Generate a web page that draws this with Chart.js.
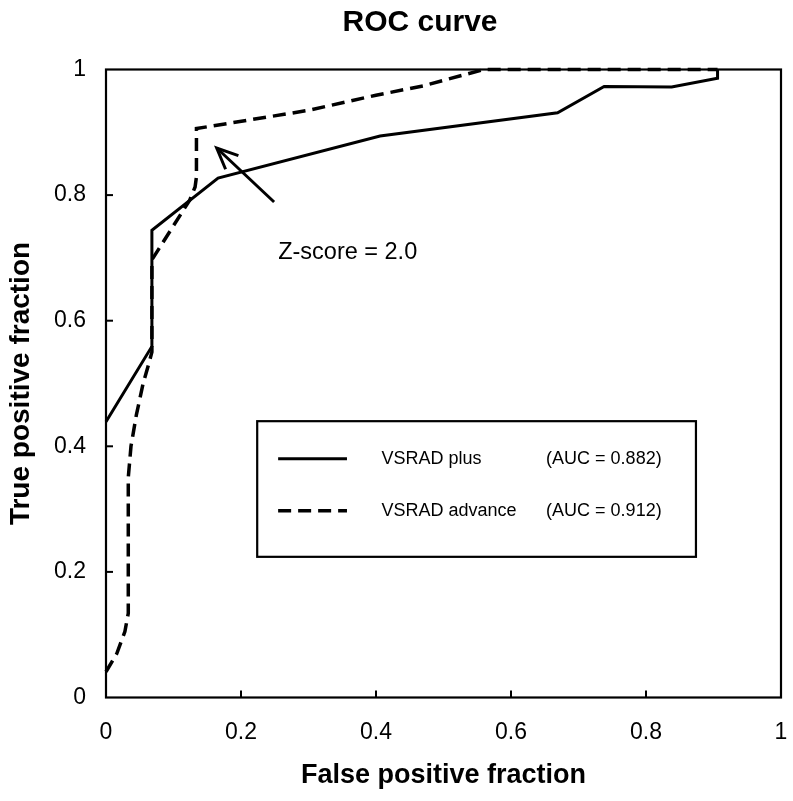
<!DOCTYPE html>
<html>
<head>
<meta charset="utf-8">
<script src="https://cdn.jsdelivr.net/npm/chart.js@4.4.1/dist/chart.umd.min.js"></script>
<style>
  html, body { margin: 0; padding: 0; background: #fff; }
  #c { display: block; }
</style>
</head>
<body>
<canvas id="c" width="793" height="801"></canvas>
<script>
// ---- data ----
const seriesNames = ['VSRAD plus', 'VSRAD advance'];
const aucLabels = ['(AUC = 0.882)', '(AUC = 0.912)'];
const plusFPF = [0, 0.068, 0.068, 0.166, 0.406, 0.669, 0.738, 0.838, 0.906, 0.906];
const plusTPF = [0.439, 0.559, 0.744, 0.827, 0.894, 0.931, 0.973, 0.972, 0.986, 1.0];
const advFPF = [0, 0.016, 0.028, 0.033, 0.033, 0.037, 0.045, 0.055, 0.063, 0.068, 0.068, 0.124, 0.132, 0.134, 0.134, 0.30, 0.40, 0.47, 0.56, 0.906];
const advTPF = [0.041, 0.070, 0.105, 0.134, 0.35, 0.40, 0.45, 0.50, 0.53, 0.55, 0.697, 0.792, 0.813, 0.829, 0.906, 0.935, 0.959, 0.974, 1.0, 1.0];
const tickValues = [0, 0.2, 0.4, 0.6, 0.8, 1];
const xTickLabels = ['0', '0.2', '0.4', '0.6', '0.8', '1'];
const yTickLabels = ['0', '0.2', '0.4', '0.6', '0.8', '1'];
const annotationText = 'Z-score = 2.0';
const arrowTail = [0.249, 0.789];
const arrowTip = [0.164, 0.875];

const FONT = '"Liberation Sans", Arial, Helvetica, sans-serif';

function pts(xs, ys) { return xs.map((v, i) => ({ x: v, y: ys[i] })); }

const titleShift = {
  id: 'titleShift',
  afterLayout(chart) {
    const tb = chart.titleBlock;
    if (tb) { tb.left = 47; tb.right = 793; tb.width = tb.right - tb.left; }
  }
};

const overlay = {
  id: 'overlay',
  afterDatasetsDraw(chart) {
    const { ctx, chartArea: a, scales: { x, y } } = chart;
    ctx.save();
    ctx.strokeStyle = '#000';
    ctx.fillStyle = '#000';
    // inner ticks
    ctx.lineWidth = 2;
    tickValues.forEach(v => {
      if (v === 0 || v === 1) return;
      const px = x.getPixelForValue(v);
      ctx.beginPath(); ctx.moveTo(px, a.bottom); ctx.lineTo(px, a.bottom - 7); ctx.stroke();
      const py = y.getPixelForValue(v);
      ctx.beginPath(); ctx.moveTo(a.left, py); ctx.lineTo(a.left + 7, py); ctx.stroke();
    });
    // frame
    ctx.lineWidth = 2.2;
    ctx.strokeRect(a.left, a.top, a.right - a.left, a.bottom - a.top);

    // arrow annotation
    const tx = x.getPixelForValue(arrowTail[0]), ty = y.getPixelForValue(arrowTail[1]);
    const hx = x.getPixelForValue(arrowTip[0]), hy = y.getPixelForValue(arrowTip[1]);
    ctx.lineWidth = 3;
    ctx.lineCap = 'butt';
    ctx.beginPath(); ctx.moveTo(tx, ty); ctx.lineTo(hx, hy); ctx.stroke();
    const ang = Math.atan2(ty - hy, tx - hx);
    const L = 23, spread = 24 * Math.PI / 180;
    ctx.beginPath();
    ctx.moveTo(hx + L * Math.cos(ang - spread), hy + L * Math.sin(ang - spread));
    ctx.lineTo(hx, hy);
    ctx.lineTo(hx + L * Math.cos(ang + spread), hy + L * Math.sin(ang + spread));
    ctx.stroke();

    // annotation text
    ctx.font = '23.5px ' + FONT;
    ctx.textBaseline = 'middle';
    ctx.textAlign = 'left';
    ctx.fillText(annotationText, x.getPixelForValue(0.255), y.getPixelForValue(0.709));

    // legend box
    const bx0 = x.getPixelForValue(0.224), bx1 = x.getPixelForValue(0.874);
    const by0 = y.getPixelForValue(0.440), by1 = y.getPixelForValue(0.224);
    ctx.lineWidth = 2.2;
    ctx.fillStyle = '#fff';
    ctx.fillRect(bx0, by0, bx1 - bx0, by1 - by0);
    ctx.strokeRect(bx0, by0, bx1 - bx0, by1 - by0);
    const rows = [0.380, 0.2975];
    ctx.font = '18px ' + FONT;
    ctx.fillStyle = '#000';
    chart.data.datasets.forEach((ds, i) => {
      const ry = y.getPixelForValue(rows[i]);
      ctx.lineWidth = ds.borderWidth;
      ctx.setLineDash(ds.borderDash || []);
      ctx.beginPath();
      ctx.moveTo(x.getPixelForValue(0.255), ry);
      ctx.lineTo(x.getPixelForValue(0.357), ry);
      ctx.stroke();
      ctx.setLineDash([]);
      ctx.fillText(seriesNames[i], x.getPixelForValue(0.408), ry);
      ctx.fillText(aucLabels[i], x.getPixelForValue(0.652), ry);
    });
    ctx.restore();
  }
};

new Chart(document.getElementById('c'), {
  type: 'scatter',
  data: {
    datasets: [
      {
        label: seriesNames[0],
        data: pts(plusFPF, plusTPF),
        showLine: true,
        borderColor: '#000',
        backgroundColor: '#000',
        borderWidth: 3,
        pointRadius: 0,
        tension: 0,
        clip: false
      },
      {
        label: seriesNames[1],
        data: pts(advFPF, advTPF),
        showLine: true,
        borderColor: '#000',
        backgroundColor: '#000',
        borderWidth: 3.5,
        borderDash: [13, 7],
        pointRadius: 0,
        tension: 0,
        clip: false
      }
    ]
  },
  options: {
    responsive: false,
    animation: false,
    devicePixelRatio: 1,
    layout: { padding: { left: 0, right: 12, top: 0, bottom: 0 } },
    plugins: {
      legend: { display: false },
      tooltip: { enabled: false },
      title: {
        display: true,
        text: 'ROC curve',
        color: '#000',
        font: { family: FONT, size: 30, weight: 'bold' },
        padding: { top: 4.5, bottom: 29 }
      }
    },
    scales: {
      x: {
        type: 'linear',
        min: 0, max: 1,
        grid: { display: false, drawTicks: false },
        border: { display: false },
        ticks: {
          stepSize: 0.2,
          padding: 21,
          color: '#000',
          font: { family: FONT, size: 23 },
          maxRotation: 0,
          callback: (v, i) => xTickLabels[i]
        },
        title: {
          display: true,
          text: 'False positive fraction',
          color: '#000',
          font: { family: FONT, size: 27, weight: 'bold' },
          padding: { top: 0, bottom: 9 }
        },
        afterFit: s => { s.height = 103.5; s.paddingLeft = 0; s.paddingRight = 0; }
      },
      y: {
        type: 'linear',
        min: 0, max: 1,
        grid: { display: false, drawTicks: false },
        border: { display: false },
        ticks: {
          stepSize: 0.2,
          padding: 20,
          color: '#000',
          font: { family: FONT, size: 23 },
          callback: (v, i) => yTickLabels[i]
        },
        title: {
          display: true,
          text: 'True positive fraction',
          color: '#000',
          font: { family: FONT, size: 28, weight: 'bold' },
          padding: { top: 4, bottom: 0 }
        },
        afterFit: s => { s.width = 106; s.paddingTop = 0; s.paddingBottom = 0; }
      }
    }
  },
  plugins: [titleShift, overlay]
});
</script>
</body>
</html>
